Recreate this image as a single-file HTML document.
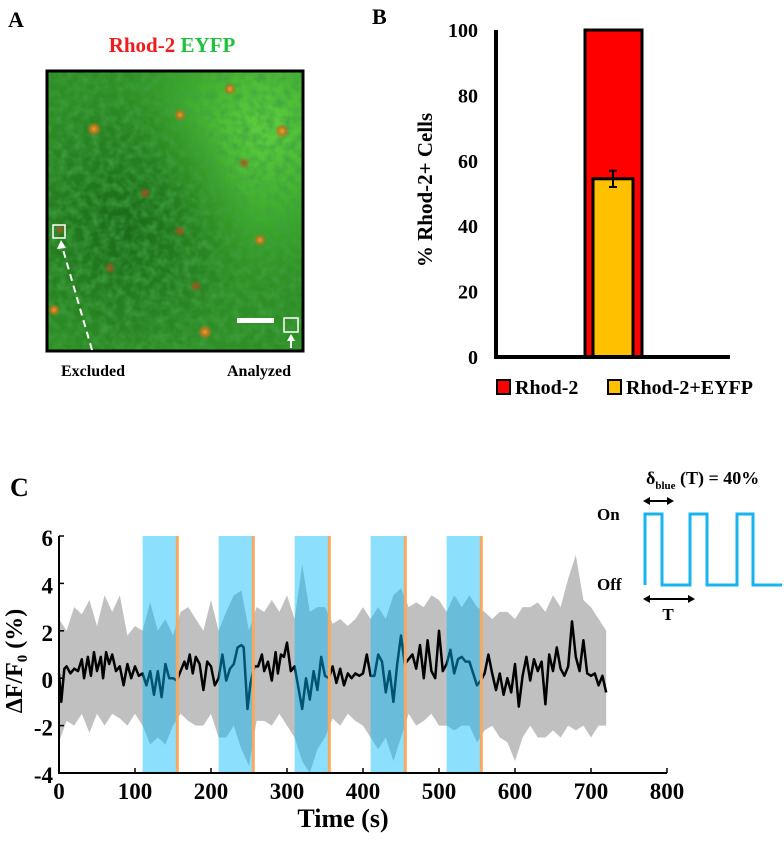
<!DOCTYPE html>
<html><head><meta charset="utf-8"><style>
body{margin:0;background:#fff;}
svg text{font-family:"Liberation Serif",serif;font-weight:bold;}
</style></head><body>
<svg id="fig" width="784" height="837" viewBox="0 0 784 837" xmlns="http://www.w3.org/2000/svg">
<defs>
<radialGradient id="blobO" cx="50%" cy="50%" r="50%"><stop offset="0" stop-color="#f0a020"/><stop offset="0.6" stop-color="#c07020" stop-opacity="0.8"/><stop offset="1" stop-color="#c07020" stop-opacity="0"/></radialGradient>
<radialGradient id="blobR" cx="50%" cy="50%" r="50%"><stop offset="0" stop-color="#b05020"/><stop offset="1" stop-color="#b05020" stop-opacity="0"/></radialGradient>
<radialGradient id="light" cx="85%" cy="20%" r="70%"><stop offset="0" stop-color="#5fd040"/><stop offset="0.5" stop-color="#3aa82a"/><stop offset="1" stop-color="#2a8a22" stop-opacity="0"/></radialGradient>
<radialGradient id="dark" cx="30%" cy="55%" r="50%"><stop offset="0" stop-color="#1a6a1a"/><stop offset="1" stop-color="#1a6a1a" stop-opacity="0"/></radialGradient>
<filter id="mottle" x="0" y="0" width="100%" height="100%">
<feTurbulence type="fractalNoise" baseFrequency="0.12" numOctaves="2" seed="3" result="n"/>
<feColorMatrix in="n" type="matrix" values="0 0 0 0 0.05  0 0 0 0 0.35  0 0 0 0 0.05  0 0 0 1.6 -0.55"/>
</filter>
</defs>
<!-- Panel A -->
<text x="8" y="27" font-size="22">A</text>
<text x="172" y="52" font-size="21" text-anchor="middle"><tspan fill="#ee1c1c">Rhod-2</tspan> <tspan fill="#22c040">EYFP</tspan></text>
<g>
<rect x="47" y="71" width="256" height="280" fill="#2e8f26"/>
<rect x="47" y="71" width="256" height="280" fill="url(#light)"/>
<rect x="47" y="71" width="256" height="280" fill="url(#dark)"/>
<rect x="47" y="71" width="256" height="280" filter="url(#mottle)"/>
<circle cx="94" cy="129" r="7" fill="url(#blobO)"/><circle cx="230" cy="89" r="6" fill="url(#blobO)"/>
<circle cx="180" cy="115" r="6" fill="url(#blobO)"/><circle cx="282" cy="131" r="7" fill="url(#blobO)"/>
<circle cx="145" cy="193" r="6" fill="url(#blobR)"/><circle cx="60" cy="230" r="5" fill="url(#blobR)"/>
<circle cx="180" cy="231" r="6" fill="url(#blobR)"/><circle cx="110" cy="268" r="6" fill="url(#blobR)"/>
<circle cx="196" cy="286" r="6" fill="url(#blobR)"/><circle cx="54" cy="310" r="6" fill="url(#blobO)"/>
<circle cx="205" cy="332" r="7" fill="url(#blobO)"/><circle cx="260" cy="240" r="6" fill="url(#blobO)"/>
<circle cx="244" cy="163" r="6" fill="url(#blobR)"/>
<rect x="47" y="71" width="256" height="280" fill="none" stroke="#000" stroke-width="3"/>
<rect x="53" y="225" width="12" height="13" fill="none" stroke="#fff" stroke-width="1.5"/>
<line x1="92" y1="350" x2="62" y2="246" stroke="#fff" stroke-width="2" stroke-dasharray="7,5"/>
<polygon points="61,240 57,249 66,248" fill="#fff"/>
<rect x="284" y="318" width="14" height="14" fill="none" stroke="#fff" stroke-width="1.5"/>
<line x1="291" y1="348" x2="291" y2="339" stroke="#fff" stroke-width="2"/>
<polygon points="291,334 287,341 295,341" fill="#fff"/>
<rect x="237" y="318" width="37" height="5" fill="#fff"/>
</g>
<text x="93" y="376" font-size="16" text-anchor="middle">Excluded</text>
<text x="259" y="376" font-size="16" text-anchor="middle">Analyzed</text>
<!-- Panel B -->
<text x="372" y="24" font-size="22">B</text>
<g id="barChart"></g>
<!-- Panel C -->
<text x="10" y="496" font-size="26">C</text>
<g id="lineChart"></g>
<g>
<text x="646" y="484" font-size="18">δ<tspan font-size="11" dy="5">blue</tspan><tspan dy="-5"> (T) = 40%</tspan></text>
<line x1="648" y1="501" x2="670" y2="501" stroke="#000" stroke-width="2"/>
<polygon points="643,501 650,497 650,505" fill="#000"/><polygon points="674,501 667,497 667,505" fill="#000"/>
<text x="597" y="520" font-size="17">On</text>
<text x="597" y="590" font-size="17">Off</text>
<polyline points="645,585 645,514 662,514 662,585 690,585 690,514 707,514 707,585 737,585 737,514 753,514 753,585 782,585" fill="none" stroke="#18b4f0" stroke-width="3"/>
<line x1="648" y1="599" x2="690" y2="599" stroke="#000" stroke-width="2"/>
<polygon points="643,599 650,595 650,603" fill="#000"/><polygon points="695,599 688,595 688,603" fill="#000"/>
<text x="668" y="620" font-size="17" text-anchor="middle">T</text>
</g>
</svg>
<script>
const NS="http://www.w3.org/2000/svg";
// ---- Panel B data ----
const barCategories=["Rhod-2","Rhod-2+EYFP"];
const barValues=[100,54.5];
const barErrors=[0,2.5];
const barTicks=[0,20,40,60,80,100];
// ---- Panel C data ----
const meanTimes=[0,3,7,10,15,20,25,30,33,38,42,46,50,55,58,62,66,70,75,80,85,90,95,100,105,110,115,120,125,130,135,140,145,150,155,160,165,168,172,176,180,185,190,195,200,205,210,215,220,225,230,235,240,243,248,252,257,262,267,270,275,280,285,288,292,296,300,305,310,315,320,325,330,335,340,345,350,355,360,365,370,375,380,385,390,395,400,405,410,415,420,425,430,435,440,445,450,455,460,465,470,475,480,485,490,495,500,505,510,515,520,525,530,535,540,545,550,555,560,565,570,575,580,585,590,595,600,605,610,615,620,625,630,635,640,645,650,655,660,665,670,675,680,685,690,695,700,705,710,715,720];
const meanValues=[0.2,-1.0,0.4,0.5,0.2,0.4,0.3,0.8,0,0.9,0.1,1.1,0.3,0.9,0,1.1,0.6,1.0,0.3,0.5,-0.3,0.6,0,0.5,0.1,0.2,-0.3,0.3,-0.7,0.3,-0.8,0.6,0,0,-0.1,0.3,0.7,0.4,1.0,0.2,0.9,0.6,-0.5,0.7,0.5,-0.3,0,1.0,-0.1,0.4,0.6,1.3,1.4,1.3,-1.3,-0.2,0.5,0.5,1.0,0.3,0.7,-0.1,1.1,0.2,1.0,0.9,1.5,0.3,0.5,-0.4,-1.3,0,-0.9,0.3,-0.5,0.9,0.1,0,0.5,-0.2,0.4,-0.3,0.2,0,0.2,0.1,0.2,1.0,0.1,0.1,1.0,0.7,-0.6,0.3,-1.0,0.6,1.8,0.6,0.8,1.0,0.4,1.4,0,1.6,0.3,0,2.0,0.3,0.6,1.2,0.2,0.8,0.9,0.7,0.7,0.2,-0.3,-0.1,0.2,1.0,0.2,-0.5,0.2,-0.7,0,-0.6,0.6,-1.2,0.1,0.9,-0.1,0.8,0.3,0.7,-1.1,1.0,0.3,1.3,0.4,0.1,0.5,2.4,0.9,0.3,1.6,0.2,0.1,0.2,-0.3,0.1,-0.6];
const bandTimes=[0,10,20,30,40,50,60,70,80,90,100,110,120,130,140,150,160,170,180,190,200,210,220,230,240,250,260,270,280,290,300,310,320,330,340,350,360,370,380,390,400,410,420,430,440,450,460,470,480,490,500,510,520,530,540,550,560,570,580,590,600,610,620,630,640,650,660,670,680,690,700,710,720];
const bandUpper=[2.5,2.0,3.0,2.7,3.3,2.2,3.5,2.8,3.5,1.8,2.2,2.0,3.2,2.0,2.5,1.8,2.8,3.0,2.5,2.0,3.3,2.0,2.8,3.5,3.7,2.0,3.0,2.8,3.3,2.8,3.5,2.5,4.8,2.8,3.0,3.0,2.3,2.5,2.2,2.5,3.0,2.5,3.0,2.5,3.5,3.8,3.0,3.2,3.0,3.5,3.3,2.8,3.5,3.0,3.5,3.0,2.8,2.5,2.8,2.8,2.5,3.0,3.0,3.2,2.8,3.5,3.0,4.2,5.2,3.3,3.0,2.5,2.0];
const bandLower=[-2.7,-1.8,-2.0,-1.5,-2.3,-1.5,-2.0,-1.5,-1.7,-2.0,-1.5,-2.0,-2.8,-2.5,-2.8,-2.0,-1.5,-1.8,-2.0,-2.0,-1.5,-2.5,-2.5,-2.0,-3.0,-3.7,-1.8,-1.8,-2.0,-1.5,-2.0,-2.5,-3.5,-4.0,-3.0,-2.5,-1.7,-2.0,-1.5,-1.8,-2.0,-2.5,-3.0,-2.5,-3.5,-2.5,-1.5,-2.0,-1.8,-1.5,-2.0,-2.0,-2.2,-2.0,-2.0,-2.7,-2.2,-2.0,-2.5,-2.7,-3.5,-2.5,-2.0,-2.5,-2.5,-2.2,-2.5,-2.0,-2.2,-2.0,-2.5,-2.0,-2.0];
const stimStarts=[110,210,310,410,510];
const stimEnds=[155,255,355,455,555];
const xTicks=[0,100,200,300,400,500,600,700,800];
const yTicks=[-4,-2,0,2,4,6];

function mk(tag,attrs,parent,text){const e=document.createElementNS(NS,tag);for(const k in attrs)e.setAttribute(k,attrs[k]);if(text!==undefined)e.textContent=text;parent.appendChild(e);return e;}

// ---- Bar chart ----
(function(){
const g=document.getElementById('barChart');
const X0=496,XE=730,Y0=357,YT=30;
const y=v=>Y0-(v/100)*(Y0-YT);
const colors=["#ff0000","#ffc000"];
const xs=[[585,642],[593,633]];
barValues.forEach((v,i)=>{
 const r=mk('rect',{x:xs[i][0],y:y(v),width:xs[i][1]-xs[i][0],height:Y0-y(v),fill:colors[i],stroke:"#000","stroke-width":3},g);
 
 
 if(barErrors[i]>0){const cx=(xs[i][0]+xs[i][1])/2;
  const eb=mk('path',{d:`M${cx},${y(v+barErrors[i])}V${y(v-barErrors[i])}M${cx-4},${y(v+barErrors[i])}H${cx+4}M${cx-4},${y(v-barErrors[i])}H${cx+4}`,stroke:"#000","stroke-width":2,fill:"none"},g);
  
  }
});
const ax=mk('path',{d:`M${X0},${YT}V${Y0}H${XE}`,stroke:"#000","stroke-width":4,fill:"none"},g);


barTicks.forEach(t=>{const tx=mk('text',{x:478,y:y(t)+7,"font-size":20,"text-anchor":"end"},g,String(t));
 
 });
const yl=mk('text',{x:0,y:0,"font-size":21,"text-anchor":"middle",transform:"translate(432,190) rotate(-90)"},g,"% Rhod-2+ Cells");


const lx=[497,608];
barCategories.forEach((c,i)=>{
 const s=mk('rect',{x:lx[i],y:380,width:13,height:14,fill:colors[i],stroke:"#000","stroke-width":2},g);
 
 
 const t=mk('text',{x:lx[i]+18,y:394,"font-size":20},g,c);
 
 
});
})();

// ---- Line chart ----
(function(){
const g=document.getElementById('lineChart');
const X0=59,X1=667,Yb=773,Yt=536;
const x=t=>X0+(t/800)*(X1-X0);
const y=v=>Yb-((v+4)/10)*(Yb-Yt);
let d="M"+bandTimes.map((t,i)=>x(t)+","+y(bandUpper[i])).join("L");
for(let i=bandTimes.length-1;i>=0;i--)d+="L"+x(bandTimes[i])+","+y(bandLower[i]);
const band=mk('path',{d:d+"Z",fill:"#c0c0c0"},g);


const line=mk('path',{d:"M"+meanTimes.map((t,i)=>x(t)+","+y(meanValues[i])).join("L"),fill:"none",stroke:"#000","stroke-width":2.5,"stroke-linejoin":"round"},g);


stimStarts.forEach((s,i)=>{
 const r=mk('rect',{x:x(s),y:y(6),width:x(stimEnds[i])-x(s),height:y(-4)-y(6),fill:"rgba(0,185,250,0.45)"},g);
 
 
 const o=mk('rect',{x:x(stimEnds[i])-1,y:y(6),width:3,height:y(-4)-y(6),fill:"#f8a860"},g);
 
 
});
const ax=mk('path',{d:`M${X0},${Yt}V${Yb}H${X1}`,stroke:"#000","stroke-width":2,fill:"none"},g);


xTicks.forEach(t=>{
 mk('line',{x1:x(t),x2:x(t),y1:Yb,y2:Yb-5,stroke:"#000","stroke-width":1.5},g);
 const tx=mk('text',{x:x(t),y:Yb+26,"font-size":23,"text-anchor":"middle"},g,String(t));
 
 
});
yTicks.forEach(t=>{
 mk('line',{x1:X0,x2:X0+5,y1:y(t),y2:y(t),stroke:"#000","stroke-width":1.5},g);
 const tx=mk('text',{x:X0-6,y:y(t)+10,"font-size":23,"text-anchor":"end"},g,String(t));
 
 
});
const xl=mk('text',{x:343,y:827,"font-size":26,"text-anchor":"middle"},g,"Time (s)");


const yl=mk('text',{x:0,y:0,"font-size":24,"text-anchor":"middle",transform:"translate(22,661) rotate(-90)"},g);
yl.innerHTML='ΔF/F<tspan font-size="15" dy="5">0</tspan><tspan dy="-5"> (%)</tspan>';


})();
</script>
</body></html>
